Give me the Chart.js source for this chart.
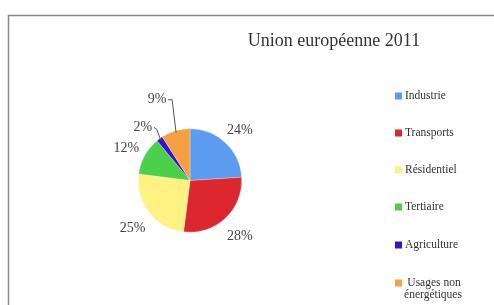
<!DOCTYPE html>
<html>
<head>
<meta charset="utf-8">
<script src="https://cdn.jsdelivr.net/npm/chart.js@4"></script>
<style>
  html, body { margin: 0; padding: 0; background: #fff; }
  #wrap { width: 494px; height: 305px; position: relative; }
</style>
</head>
<body>
<div id="wrap"><canvas id="pieChart" width="494" height="305"></canvas></div>
<script>
// Data
const title = 'Union européenne 2011';
const categories = ['Industrie', 'Transports', 'Résidentiel', 'Tertiaire', 'Agriculture', 'Usages non énergétiques'];
const shares = [24, 28, 25, 12, 2, 9];

// Colors
const sliceColors = [
    'rgb(92, 155, 240)',
    'rgb(220, 38, 48)',
    'rgb(255, 242, 130)',
    'rgb(76, 208, 76)',
    'rgb(58, 16, 200)',
    'rgb(245, 160, 66)'
];

const serif = '"Liberation Serif", "DejaVu Serif", serif';

// Frame, title, percent labels and legend
const decorPlugin = {
    id: 'decor',
    beforeDraw(chart) {
        const ctx = chart.ctx;
        ctx.save();
        ctx.strokeStyle = '#8a8a8a';
        ctx.lineWidth = 1.5;
        ctx.strokeRect(8.5, 15.5, 520, 320);
        ctx.restore();
    },
    afterDraw(chart) {
        const ctx = chart.ctx;
        const meta = chart.getDatasetMeta(0);
        ctx.save();

        // title
        ctx.fillStyle = '#333';
        ctx.font = '18px ' + serif;
        ctx.textAlign = 'center';
        ctx.textBaseline = 'middle';
        ctx.fillText(title, 334, 41);

        // percent labels
        ctx.font = '14px ' + serif;
        ctx.fillStyle = '#444';
        ctx.strokeStyle = '#555';
        ctx.lineWidth = 1;
        meta.data.forEach((arc, i) => {
            const mid = (arc.startAngle + arc.endAngle) / 2;
            const cx = arc.x, cy = arc.y, r = arc.outerRadius;
            const label = shares[i] + '%';
            if (shares[i] >= 10) {
                const d = r + 21;
                ctx.fillText(label, cx + Math.cos(mid) * d, cy + Math.sin(mid) * d + 3);
            } else {
                // leader line for thin slices
                const ex = cx + Math.cos(mid) * (r - 2);
                const ey = cy + Math.sin(mid) * (r - 2);
                let lx, ly;
                if (i === 4) {
                    lx = ex - 4; ly = ey - 11;
                    ctx.beginPath();
                    ctx.moveTo(ex, ey);
                    ctx.lineTo(lx, ly);
                    ctx.lineTo(lx - 3, ly - 2);
                    ctx.stroke();
                    ctx.fillText(label, lx - 14, ly - 2);
                } else {
                    lx = ex - 4; ly = ey - 33;
                    ctx.beginPath();
                    ctx.moveTo(ex, ey);
                    ctx.lineTo(lx, ly);
                    ctx.lineTo(lx - 4, ly);
                    ctx.stroke();
                    ctx.fillText(label, lx - 15, ly);
                }
            }
        });

        // legend
        const lx = 395;
        const ys = [96, 133, 170, 207, 245, 283];
        ctx.font = '11.5px ' + serif;
        ctx.textAlign = 'left';
        categories.forEach((name, i) => {
            ctx.fillStyle = sliceColors[i];
            ctx.fillRect(lx, ys[i] - 3.5, 7, 7);
            ctx.fillStyle = '#333';
            if (name.length > 15) {
                const words = name.split(' ');
                ctx.textAlign = 'center';
                ctx.fillText(words.slice(0, 2).join(' '), 434, ys[i]);
                ctx.fillText(words.slice(2).join(' '), 433, ys[i] + 12);
                ctx.textAlign = 'left';
            } else {
                ctx.fillText(name, lx + 10, ys[i]);
            }
        });
        ctx.restore();
    }
};

new Chart(document.getElementById('pieChart'), {
    type: 'pie',
    data: {
        labels: categories,
        datasets: [{
            data: shares,
            backgroundColor: sliceColors,
            borderColor: 'rgba(255,255,255,0.6)',
            borderWidth: 0.5
        }]
    },
    options: {
        responsive: false,
        animation: false,
        layout: { padding: { left: 138, right: 252, top: 128, bottom: 72 } },
        plugins: {
            legend: { display: false },
            title: { display: false },
            tooltip: { enabled: false }
        }
    },
    plugins: [decorPlugin]
});
</script>
</body>
</html>
